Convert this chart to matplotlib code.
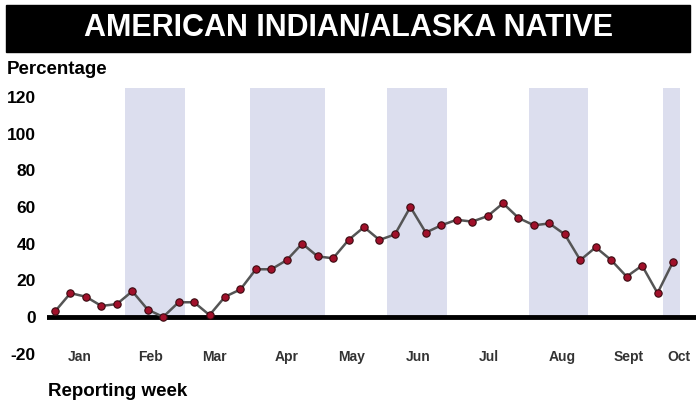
import matplotlib.pyplot as plt

plt.rcParams['font.family'] = ['Liberation Sans', 'DejaVu Sans']

# weekly percentages
weeks = list(range(1, 42))
values = [3, 13, 11, 6, 7, 14, 4, 0, 8, 8, 1, 11, 15, 26, 26, 31, 40, 33, 32, 42,
          49, 42, 45, 60, 46, 50, 53, 52, 55, 62, 54, 50, 51, 45, 31, 38, 31, 22, 28, 13, 30]

months = ["Jan", "Feb", "Mar", "Apr", "May", "Jun", "Jul", "Aug", "Sept", "Oct"]
month_pos = [2.6, 7.15, 11.35, 16.0, 20.2, 24.5, 29.1, 33.8, 38.15, 41.4]

# shaded months (in week units)
bands = [(5.55, 9.4), (13.6, 18.5), (22.5, 26.35), (31.65, 35.5), (40.35, 41.45)]

yticks = [-20, 0, 20, 40, 60, 80, 100, 120]

fig = plt.figure(figsize=(6.96, 4.05), dpi=100)

# title banner
fig.patches.append(plt.Rectangle((6 / 696, 1 - 52 / 405), 684 / 696, 47 / 405,
                                 transform=fig.transFigure, color="black"))
fig.text(349 / 696, 1 - 28 / 405, "AMERICAN INDIAN/ALASKA NATIVE", color="white",
         fontsize=22, fontweight="bold", ha="center", va="center")
fig.text(7 / 696, 1 - 70 / 405, "Percentage", fontsize=13.5, fontweight="bold",
         ha="left", va="center")
fig.text(48 / 696, 1 - 391 / 405, "Reporting week", fontsize=13.5, fontweight="bold",
         ha="left", va="center")

ax = fig.add_axes([47 / 696, 1 - 360 / 405, 649 / 696, 272 / 405])
ax.set_xlim(0.48, 42.49)
ax.set_ylim(-23.5, 124.9)

for a, b in bands:
    ax.axvspan(a, b, ymin=(0 - -23.5) / 148.4, ymax=1, color="#dcdeee", lw=0, zorder=0)

ax.axhline(0, color="black", lw=3.5, zorder=1)
ax.plot(weeks, values, color="#555555", lw=1.8, zorder=2)
ax.scatter(weeks, values, s=28, color="#a0102a", edgecolor="#3a0a10", linewidth=0.8, zorder=3)

for s in ax.spines.values():
    s.set_visible(False)
ax.set_xticks([])
ax.set_yticks(yticks)
ax.set_yticklabels([str(t) for t in yticks], fontsize=12.5, fontweight="bold")
ax.tick_params(axis="y", length=0, pad=8)

for m, p in zip(months, month_pos):
    ax.text(p, -22, m, fontsize=10, fontweight="bold", ha="center", va="center",
            color="#333333", family=["Liberation Sans Narrow", "Liberation Sans"])

fig.savefig("out.png", dpi=100)
